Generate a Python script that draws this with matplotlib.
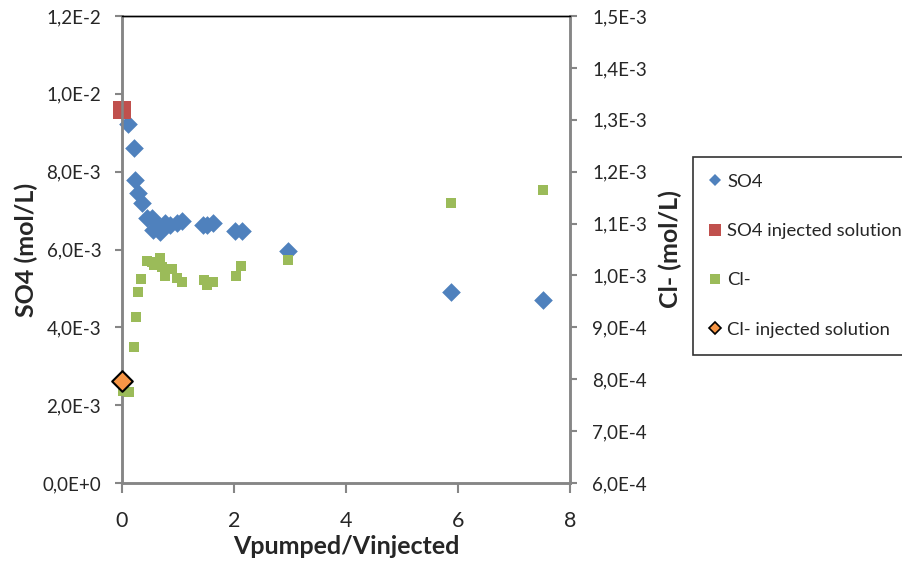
import matplotlib
matplotlib.use('Agg')
import matplotlib.pyplot as plt
from matplotlib.lines import Line2D
from matplotlib.ticker import FuncFormatter, MultipleLocator

plt.rcParams['font.family'] = ['Lato', 'DejaVu Sans']

# SO4 measured (left axis)
so4_x = [0.11, 0.21, 0.24, 0.28, 0.35, 0.44, 0.53, 0.56, 0.65, 0.68, 0.77,
         0.86, 0.98, 1.07, 1.45, 1.51, 1.63, 2.02, 2.14, 2.96, 5.88, 7.52]
so4_y = [9.22e-3, 8.60e-3, 7.79e-3, 7.45e-3, 7.19e-3, 6.80e-3, 6.82e-3, 6.50e-3,
         6.59e-3, 6.46e-3, 6.68e-3, 6.63e-3, 6.68e-3, 6.73e-3, 6.63e-3, 6.63e-3,
         6.69e-3, 6.48e-3, 6.48e-3, 5.97e-3, 4.91e-3, 4.70e-3]

# SO4 injected solution
so4_inj_x = [0.0]
so4_inj_y = [9.59e-3]

# Cl- measured (right axis)
cl_x = [0.01, 0.13, 0.21, 0.25, 0.28, 0.34, 0.44, 0.53, 0.57, 0.67, 0.71, 0.77,
        0.89, 0.99, 1.08, 1.46, 1.51, 1.63, 2.04, 2.13, 2.96, 5.87, 7.52]
cl_y = [7.77e-4, 7.75e-4, 8.63e-4, 9.20e-4, 9.68e-4, 9.93e-4, 1.027e-3, 1.025e-3,
        1.020e-3, 1.033e-3, 1.017e-3, 0.998e-3, 1.012e-3, 0.995e-3, 0.988e-3,
        0.991e-3, 0.982e-3, 0.988e-3, 0.999e-3, 1.018e-3, 1.030e-3, 1.139e-3, 1.165e-3]

# Cl- injected solution
cl_inj_x = [0.0]
cl_inj_y = [7.97e-4]

blue = '#4F81BD'
red = '#C0504D'
green = '#9BBB59'
orange = '#F79646'
axis_gray = '#868686'
text_col = '#262626'


def excel_sci(v, pos):
    # Excel style: 1,2E-2 / 0,0E+0
    if v == 0:
        return '0,0E+0'
    mant, exp = ('%.1E' % v).split('E')
    return mant.replace('.', ',') + 'E' + ('%+d' % int(exp)).replace('+', '+' if int(exp) >= 0 else '')


fig = plt.figure(figsize=(9.02, 5.61), dpi=100)
ax = fig.add_axes([122 / 902, 1 - 483 / 561, 448 / 902, 467 / 561])
ax2 = ax.twinx()

ax.scatter(so4_x, so4_y, marker='D', s=9.5 ** 2, color=blue, linewidths=0, zorder=3, clip_on=False)
ax.scatter(so4_inj_x, so4_inj_y, marker='s', s=13 ** 2, color=red, linewidths=0, zorder=4, clip_on=False)
ax2.scatter(cl_x, cl_y, marker='s', s=7 ** 2, color=green, linewidths=0, zorder=3, clip_on=False)
ax2.scatter(cl_inj_x, cl_inj_y, marker='D', s=10.5 ** 2, color=orange, edgecolors='black',
            linewidths=1.5, zorder=4, clip_on=False)

ax.set_xlim(0, 8)
ax.set_ylim(0, 1.2e-2)
ax2.set_ylim(6e-4, 1.5e-3)
ax.xaxis.set_major_locator(MultipleLocator(2))
ax.yaxis.set_major_locator(MultipleLocator(2e-3))
ax2.yaxis.set_major_locator(MultipleLocator(1e-4))
ax.yaxis.set_major_formatter(FuncFormatter(excel_sci))
ax2.yaxis.set_major_formatter(FuncFormatter(excel_sci))

for a in (ax, ax2):
    for side in ('left', 'right', 'bottom'):
        a.spines[side].set_color(axis_gray)
        a.spines[side].set_linewidth(1.8)
    a.spines['top'].set_color('black')
    a.spines['top'].set_linewidth(1.0)

ax.tick_params(axis='x', direction='out', length=7, width=1.5, color=axis_gray,
               labelsize=15.5, labelcolor=text_col, pad=13)
ax.tick_params(axis='y', direction='out', length=5, width=1.5, color=axis_gray,
               labelsize=13.5, labelcolor=text_col, pad=10)
ax2.tick_params(axis='y', direction='out', length=5, width=1.5, color=axis_gray,
                labelsize=13.5, labelcolor=text_col, pad=11)

ax.set_xlabel('Vpumped/Vinjected', fontsize=18, fontweight='bold', color=text_col, labelpad=3)
ax.set_ylabel('SO4 (mol/L)', fontsize=18, fontweight='bold', color=text_col, labelpad=3)
ax2.set_ylabel('Cl- (mol/L)', fontsize=18, fontweight='bold', color=text_col, labelpad=8)

handles = [
    Line2D([], [], linestyle='none', marker='D', markersize=6, color=blue, markeredgewidth=0),
    Line2D([], [], linestyle='none', marker='s', markersize=8, color=red, markeredgewidth=0),
    Line2D([], [], linestyle='none', marker='s', markersize=6.5, color=green, markeredgewidth=0),
    Line2D([], [], linestyle='none', marker='D', markersize=6, markerfacecolor=orange,
           markeredgecolor='black', markeredgewidth=1.2),
]
labels = ['SO4', 'SO4 injected solution', 'Cl-', 'Cl- injected solution']
leg = fig.legend(handles, labels, loc='upper left', bbox_to_anchor=(693 / 902, 1 - 157 / 561),
                 fontsize=13.3, frameon=True, fancybox=False, edgecolor='black',
                 labelspacing=1.81, handlelength=0.6, handletextpad=0.35,
                 borderpad=0.9, borderaxespad=0)
leg.get_frame().set_linewidth(1.2)
for t in leg.get_texts():
    t.set_color(text_col)

fig.savefig('out.png', dpi=100)
